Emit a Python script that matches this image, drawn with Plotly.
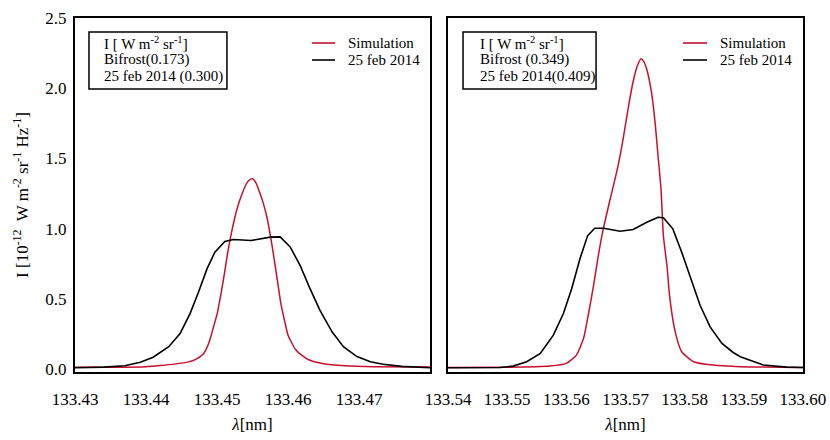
import plotly.graph_objects as go

# ---- Daten ----
# linkes Panel: Linie bei ~133.455 nm
L_WL_SIM = [133.430, 133.435, 133.440, 133.442, 133.444, 133.446, 133.447, 133.448,
            133.4485, 133.449, 133.4495, 133.450, 133.4505, 133.451, 133.4515, 133.452,
            133.4525, 133.453, 133.4535, 133.454, 133.4545, 133.455, 133.4555, 133.456,
            133.4565, 133.457, 133.4575, 133.458, 133.4585, 133.459, 133.4595, 133.460,
            133.4605, 133.461, 133.462, 133.463, 133.465, 133.468, 133.472, 133.480]
L_I_SIM = [0.013, 0.014, 0.018, 0.026, 0.036, 0.052, 0.070, 0.105,
           0.145, 0.21, 0.30, 0.39, 0.52, 0.667, 0.828, 0.964,
           1.078, 1.173, 1.244, 1.306, 1.345, 1.356, 1.325, 1.259,
           1.184, 1.088, 0.956, 0.80, 0.633, 0.465, 0.347, 0.242,
           0.19, 0.144, 0.096, 0.065, 0.039, 0.025, 0.018, 0.015]

L_WL_OBS = [133.430, 133.434, 133.437, 133.4392, 133.441, 133.4432, 133.4448, 133.4462,
            133.4474, 133.4486, 133.4497, 133.4511, 133.4523, 133.4548, 133.4575, 133.4589,
            133.4603, 133.4617, 133.4631, 133.4645, 133.4662, 133.4678, 133.4697, 133.4716,
            133.4734, 133.4760, 133.480]
L_I_OBS = [0.010, 0.015, 0.025, 0.050, 0.085, 0.160, 0.254, 0.396,
           0.550, 0.716, 0.833, 0.909, 0.923, 0.916, 0.940, 0.942,
           0.870, 0.739, 0.573, 0.419, 0.266, 0.160, 0.090, 0.053,
           0.035, 0.020, 0.010]

# rechtes Panel: Linie bei ~133.572 nm
R_WL_SIM = [133.540, 133.550, 133.5572, 133.5600, 133.5617, 133.5629, 133.5637, 133.5646,
            133.5654, 133.5662, 133.5674, 133.5686, 133.5696, 133.5705, 133.5713, 133.5720,
            133.5726, 133.5731, 133.5736, 133.5744, 133.5750, 133.5755, 133.5760, 133.5764,
            133.5770, 133.5775, 133.5784, 133.5795, 133.5815, 133.5848, 133.5894, 133.600]
R_I_SIM = [0.012, 0.013, 0.022, 0.041, 0.100, 0.218, 0.384, 0.596,
           0.809, 0.99, 1.21, 1.42, 1.64, 1.87, 2.05, 2.16,
           2.209, 2.19, 2.133, 1.968, 1.755, 1.518, 1.282, 0.95,
           0.738, 0.502, 0.266, 0.124, 0.053, 0.029, 0.018, 0.012]

R_WL_OBS = [133.540, 133.545, 133.5488, 133.5510, 133.5533, 133.5556, 133.5578, 133.5595,
            133.5609, 133.5623, 133.5636, 133.5648, 133.5663, 133.5691, 133.5713, 133.5736,
            133.5755, 133.5764, 133.5780, 133.5795, 133.5809, 133.5826, 133.5843, 133.5863,
            133.5882, 133.5894, 133.5933, 133.5972, 133.600]
R_I_OBS = [0.010, 0.011, 0.012, 0.022, 0.053, 0.112, 0.242, 0.396,
           0.573, 0.786, 0.951, 1.003, 1.003, 0.982, 0.994, 1.046,
           1.082, 1.078, 0.999, 0.833, 0.656, 0.455, 0.301, 0.183,
           0.119, 0.089, 0.030, 0.015, 0.012]

L_RANGE = [133.43, 133.47999]
R_RANGE = [133.54, 133.60]
Y_RANGE = [-0.02, 2.5]

L_BOX = ["I [ W m<sup>-2</sup> sr<sup>-1</sup>]", "Bifrost(0.173)", "25 feb 2014 (0.300)"]
R_BOX = ["I [ W m<sup>-2</sup> sr<sup>-1</sup>]", "Bifrost (0.349)", "25 feb 2014(0.409)"]
LEGEND_NAMES = ["Simulation", "25 feb 2014"]

RED = "#c8102e"
FONT = "Liberation Serif"
COLORS = [RED, "black"]

fig = go.Figure()

for xa, ya, wl_sim, i_sim, wl_obs, i_obs in [
    ("x", "y", L_WL_SIM, L_I_SIM, L_WL_OBS, L_I_OBS),
    ("x2", "y2", R_WL_SIM, R_I_SIM, R_WL_OBS, R_I_OBS),
]:
    fig.add_trace(go.Scatter(x=wl_sim, y=i_sim, xaxis=xa, yaxis=ya, mode="lines",
                             name=LEGEND_NAMES[0], showlegend=False,
                             line=dict(color=RED, width=1.5, shape="spline", smoothing=0.5)))
    fig.add_trace(go.Scatter(x=wl_obs, y=i_obs, xaxis=xa, yaxis=ya, mode="lines",
                             name=LEGEND_NAMES[1], showlegend=False,
                             line=dict(color="black", width=1.6)))

# Beschriftete Achsen: nur Linie + Labels (Serifenschrift), keine Ticks
label_axis = dict(showline=True, linecolor="black", linewidth=2, mirror=True, ticks="",
                  automargin=False, showgrid=False, zeroline=False, fixedrange=True,
                  tickfont=dict(family=FONT, size=17, color="black"))
# Overlay-Achsen ohne Labels: zeichnen die Ticks (Standardschrift, da Ticks sonst fehlen)
tick_axis = dict(showline=False, ticks="inside", tickcolor="black", tickwidth=2,
                 mirror="allticks", showticklabels=False, automargin=False,
                 showgrid=False, zeroline=False, fixedrange=True)
title_font = dict(family=FONT, size=17, color="black")
x_minor = dict(ticks="inside", dtick=0.001, ticklen=4, tickcolor="black", tickwidth=1,
               showgrid=False)
y_minor = dict(ticks="inside", dtick=0.1, ticklen=5, tickcolor="black", tickwidth=1,
               showgrid=False)
lam_title = dict(text="<i>λ</i>[nm]", font=title_font, standoff=10)

fig.update_layout(
    xaxis=dict(domain=[0, 0.4876], anchor="y", range=L_RANGE, tick0=133.43, dtick=0.01,
               tickformat=".2f", ticklabelstandoff=11, title=lam_title, **label_axis),
    xaxis2=dict(domain=[0.5124, 1], anchor="y2", range=R_RANGE, tick0=133.54, dtick=0.01,
                tickformat=".2f", ticklabelstandoff=11, title=lam_title, **label_axis),
    yaxis=dict(anchor="x", range=Y_RANGE, tick0=0, dtick=0.5, tickformat=".1f",
               ticklabelstandoff=3,
               title=dict(text="I [10<sup>-12</sup>  W m<sup>-2</sup> sr<sup>-1</sup> Hz<sup>-1</sup>]",
                          font=title_font, standoff=12),
               **label_axis),
    yaxis2=dict(anchor="x2", range=Y_RANGE, tick0=0, dtick=0.5, showticklabels=False,
                **label_axis),
    xaxis3=dict(overlaying="x", anchor="y", range=L_RANGE, tick0=133.43, dtick=0.01,
                ticklen=7, minor=x_minor, **tick_axis),
    xaxis4=dict(overlaying="x2", anchor="y2", range=R_RANGE, tick0=133.54, dtick=0.01,
                ticklen=7, minor=x_minor, **tick_axis),
    yaxis3=dict(overlaying="y", anchor="x", range=Y_RANGE, tick0=0, dtick=0.5,
                ticklen=10, minor=y_minor, **tick_axis),
    yaxis4=dict(overlaying="y2", anchor="x2", range=Y_RANGE, tick0=0, dtick=0.5,
                ticklen=10, minor=y_minor, **tick_axis),
    showlegend=False,
    width=830, height=440,
    margin=dict(l=75, r=27, t=18, b=68),
    paper_bgcolor="white", plot_bgcolor="white",
)

# Beschriftungskasten und Legende oben in beiden Panels
for xr, yr, box_x0, box_x1, tx, lines, lx0, lx1, ltx in [
    ("x domain", "y domain", 0.0394, 0.428, 0.076, L_BOX, 0.6676, 0.7324, 0.7634),
    ("x2 domain", "y2 domain", 0.0423, 0.417, 0.0845, R_BOX, 0.662, 0.7296, 0.7606),
]:
    fig.add_shape(type="rect", xref=xr, yref=yr, x0=box_x0, x1=box_x1, y0=0.7994, y1=0.9605,
                  line=dict(color="black", width=1.5), fillcolor="rgba(0,0,0,0)")
    for k, txt in enumerate(lines):
        fig.add_annotation(xref=xr, yref=yr, x=tx, y=0.9294 - k * 0.048, text=txt,
                           showarrow=False, xanchor="left", yanchor="middle",
                           font=dict(family=FONT, size=15, color="black"))
    for k, (name, col) in enumerate(zip(LEGEND_NAMES, COLORS)):
        ly = 0.9294 - k * 0.048
        fig.add_shape(type="line", xref=xr, yref=yr, x0=lx0, x1=lx1, y0=ly, y1=ly,
                      line=dict(color=col, width=1.6))
        fig.add_annotation(xref=xr, yref=yr, x=ltx, y=ly, text=name, showarrow=False,
                           xanchor="left", yanchor="middle",
                           font=dict(family=FONT, size=15, color="black"))

# Body-Rand des Browsers entfernen, damit die Figur bei (0,0) beginnt
fig.write_html("out.html", post_script="document.body.style.margin='0';",
               config={"displayModeBar": False})
